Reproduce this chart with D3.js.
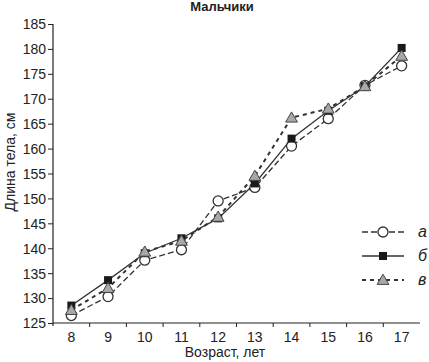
<!DOCTYPE html>
<html><head><meta charset="utf-8">
<script src="https://cdn.jsdelivr.net/npm/d3@7"></script>
<style>body{margin:0;background:#fff}svg{display:block}text{font-family:"Liberation Sans",Arial,sans-serif;fill:#222}</style>
</head><body>
<script>
const ages = [8, 9, 10, 11, 12, 13, 14, 15, 16, 17];
const seriesA = [126.5, 130.3, 137.6, 139.7, 149.5, 152.2, 160.5, 166.0, 172.7, 176.6];
const seriesB = [128.5, 133.6, 139.0, 142.0, 146.0, 153.0, 162.0, 167.6, 172.5, 180.2];
const seriesV = [127.6, 132.0, 139.3, 141.5, 146.3, 154.5, 166.2, 168.0, 172.5, 178.6];
const yTicks = [125, 130, 135, 140, 145, 150, 155, 160, 165, 170, 175, 180, 185];
const legendLabels = ["а", "б", "в"];
const title = "Мальчики";
const xTitle = "Возраст, лет";
const yTitle = "Длина тела, см";

const W = 429, H = 362;
const m = {l: 53, r: 9, t: 24, b: 39};
const svg = d3.select("body").append("svg").attr("width", W).attr("height", H);

const x = d3.scaleBand().domain(ages).range([m.l, W - m.r]);
const y = d3.scaleLinear().domain([125, 185]).range([H - m.b, m.t]);

// axes
const yAx = svg.append("g").attr("transform", `translate(${m.l},0)`)
  .call(d3.axisLeft(y).tickValues(yTicks).tickSize(5).tickPadding(2));
yAx.select(".domain").attr("d", `M0,${y(185)}V${y(125)+3}`).attr("stroke", "#222").attr("stroke-width", 1.2);
yAx.selectAll(".tick line").attr("stroke", "#222");
yAx.selectAll("text").attr("font-size", 14).attr("fill", "#222").attr("dy", "0.35em");

const xAx = svg.append("g").attr("transform", `translate(0,${H - m.b})`);
xAx.append("line").attr("x1", m.l).attr("x2", W - m.r).attr("stroke", "#222").attr("stroke-width", 1.2);
xAx.selectAll(".tk").data(ages.slice(1)).enter().append("line")
  .attr("x1", d => x(d)).attr("x2", d => x(d)).attr("y1", 0).attr("y2", 4).attr("stroke", "#222");
xAx.selectAll(".lb").data(ages).enter().append("text")
  .attr("x", d => x(d) + x.bandwidth() / 2).attr("y", 19).attr("text-anchor", "middle")
  .attr("font-size", 14).text(d => d);

// titles
svg.append("text").attr("x", 222).attr("y", 11).attr("text-anchor", "middle")
  .attr("font-size", 13).attr("font-weight", "bold").attr("fill", "#333").text(title);
svg.append("text").attr("x", 225).attr("y", 357).attr("text-anchor", "middle")
  .attr("font-size", 14).text(xTitle);
svg.append("text").attr("transform", "translate(15,162) rotate(-90)").attr("text-anchor", "middle")
  .attr("font-size", 14).text(yTitle);

const cx = d => x(d) + x.bandwidth() / 2;
const line = vals => d3.line().x((d, i) => cx(ages[i])).y(d => y(d))(vals);

const styles = [
  {vals: seriesA, dash: "6,3", w: 1.3, marker: "circle"},
  {vals: seriesB, dash: null, w: 1.3, marker: "square"},
  {vals: seriesV, dash: "4,4", w: 2, marker: "triangle"}
];

function drawMarker(g, type, px, py) {
  if (type === "circle") {
    g.append("circle").attr("cx", px).attr("cy", py).attr("r", 5)
      .attr("fill", "#fff").attr("stroke", "#333").attr("stroke-width", 1.3);
  } else if (type === "square") {
    g.append("rect").attr("x", px - 4).attr("y", py - 4).attr("width", 8).attr("height", 8)
      .attr("fill", "#1a1a1a");
  } else {
    g.append("path").attr("d", d3.symbol(d3.symbolTriangle, 60)()).attr("transform", `translate(${px},${py + 1})`)
      .attr("fill", "#a8a8a8").attr("stroke", "#444").attr("stroke-width", 1);
  }
}

styles.forEach(s => {
  svg.append("path").attr("d", line(s.vals)).attr("fill", "none")
    .attr("stroke", "#333").attr("stroke-width", s.w).attr("stroke-dasharray", s.dash);
});
styles.forEach(s => {
  const g = svg.append("g");
  s.vals.forEach((v, i) => drawMarker(g, s.marker, cx(ages[i]), y(v)));
});

// legend
const legY = [232, 256, 280];
styles.forEach((s, i) => {
  const g = svg.append("g");
  g.append("line").attr("x1", 362).attr("x2", 404).attr("y1", legY[i]).attr("y2", legY[i])
    .attr("stroke", "#333").attr("stroke-width", s.w).attr("stroke-dasharray", s.dash);
  drawMarker(g, s.marker, 383, legY[i]);
  g.append("text").attr("x", 418).attr("y", legY[i] + 5).attr("font-size", 16)
    .attr("font-style", "italic").text(legendLabels[i]);
});
</script>
</body></html>
